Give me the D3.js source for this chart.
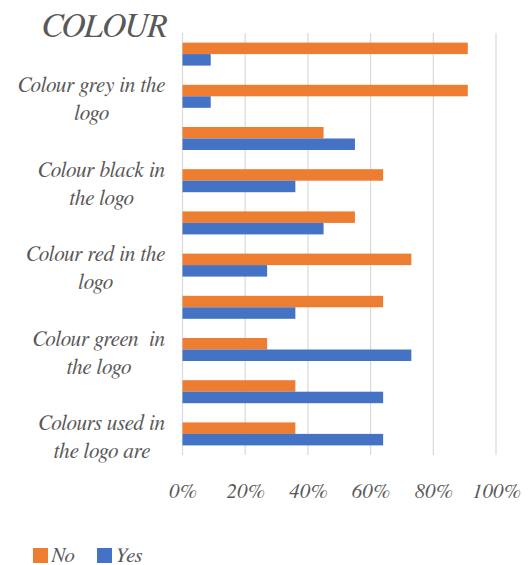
<!DOCTYPE html>
<html>
<head>
<meta charset="utf-8">
<script src="https://cdn.jsdelivr.net/npm/d3@7"></script>
</head>
<body style="margin:0">
<svg id="chart" width="532" height="565" style="display:block"></svg>
<script>
// Survey answers on logo colours, bottom row first; blank rows carry no axis label
const categories = [
  "Colours used in the logo are",
  "",
  "Colour green  in the logo",
  "",
  "Colour red in the logo",
  "",
  "Colour black in the logo",
  "",
  "Colour grey in the logo",
  ""
];
const wrappedLabels = [
  ["Colours used in", "the logo are"],
  [],
  ["Colour green  in", "the logo"],
  [],
  ["Colour red in the", "logo"],
  [],
  ["Colour black in", "the logo"],
  [],
  ["Colour grey in the", "logo"],
  []
];
const seriesNames = ["No", "Yes"];
const noValues  = [0.36, 0.36, 0.27, 0.64, 0.73, 0.55, 0.64, 0.45, 0.91, 0.91];
const yesValues = [0.64, 0.64, 0.73, 0.36, 0.27, 0.45, 0.36, 0.55, 0.09, 0.09];
const tickValues = [0, 0.2, 0.4, 0.6, 0.8, 1.0];
const colors = { No: "#ED7D31", Yes: "#4472C4" };

function styleText(sel, size) {
  return sel
    .style("font-family", "FreeSerif, Tinos, 'Liberation Serif', serif")
    .style("font-style", "italic")
    .style("font-size", size + "px")
    .style("white-space", "pre")
    .style("fill", "#595959");
}

const svg = d3.select("#chart");
const plot = { left: 182.5, right: 496, top: 33, bottom: 455 };

const x = d3.scaleLinear().domain([0, 1]).range([plot.left, plot.right]);
const y = d3.scaleBand()
  .domain(d3.range(categories.length))
  .range([plot.bottom, plot.top])
  .paddingInner(0.455)
  .paddingOuter(0.2275);
const ySub = d3.scaleBand().domain(seriesNames).range([0, y.bandwidth()]);

// Title
styleText(svg.append("text").attr("x", 42).attr("y", 37), 34).text("COLOUR");

// Vertical gridlines
svg.append("g")
  .selectAll("line")
  .data(tickValues)
  .join("line")
  .attr("x1", d => x(d)).attr("x2", d => x(d))
  .attr("y1", plot.top).attr("y2", plot.bottom)
  .attr("stroke", "#d9d9d9")
  .attr("stroke-width", 1.2);

// Bars
const rows = categories.map((c, i) => ({ i, No: noValues[i], Yes: yesValues[i] }));
const groups = svg.append("g")
  .selectAll("g")
  .data(rows)
  .join("g")
  .attr("transform", d => `translate(0,${y(d.i)})`);

groups.selectAll("rect")
  .data(d => seriesNames.map(s => ({ s, v: d[s] })))
  .join("rect")
  .attr("x", x(0))
  .attr("y", d => ySub(d.s))
  .attr("width", d => x(d.v) - x(0))
  .attr("height", ySub.bandwidth())
  .attr("fill", d => colors[d.s]);

// Category labels: wrapped lines centred within a block that ends near the axis
const labelRight = 165;
const labelG = svg.append("g");
wrappedLabels.forEach((lines, i) => {
  if (!lines.length) return;
  const cy = y(i) + y.bandwidth() / 2;
  const g = labelG.append("g");
  const texts = lines.map((line, k) =>
    styleText(g.append("text").attr("y", cy - 4 + k * 28), 21.3).text(line)
  );
  const maxW = d3.max(texts, t => t.node().getComputedTextLength());
  const cx = labelRight - maxW / 2;
  texts.forEach(t => t.attr("x", cx).attr("text-anchor", "middle"));
});

// Value axis tick labels
const xAxis = d3.axisBottom(x)
  .tickValues(tickValues)
  .tickFormat(d3.format(".0%"))
  .tickSize(0)
  .tickPadding(0);
const axisG = svg.append("g")
  .attr("transform", `translate(0,${plot.bottom})`)
  .call(xAxis);
axisG.select(".domain").remove();
styleText(axisG.selectAll("text").attr("dy", null).attr("y", 43), 21);

// Legend
const legendItems = [{ s: "No", x: 33 }, { s: "Yes", x: 97 }];
const leg = svg.append("g");
legendItems.forEach(item => {
  leg.append("rect")
    .attr("x", item.x).attr("y", 548)
    .attr("width", 15).attr("height", 15)
    .attr("fill", colors[item.s]);
  styleText(leg.append("text").attr("x", item.x + 18).attr("y", 562), 21).text(item.s);
});
</script>
</body>
</html>
